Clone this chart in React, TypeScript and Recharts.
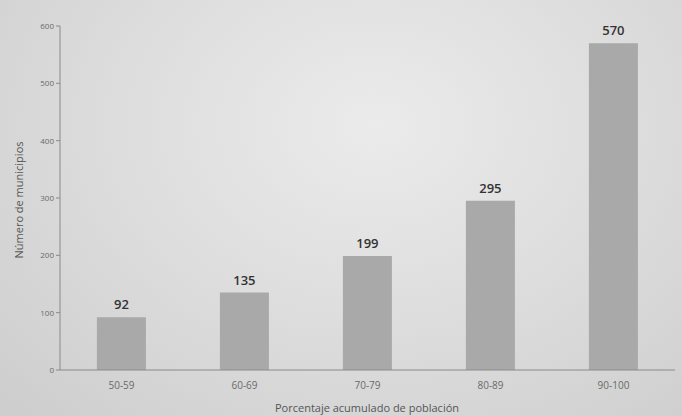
import { Bar, BarChart, LabelList, XAxis, YAxis } from 'recharts'

const categories = ['50-59', '60-69', '70-79', '80-89', '90-100']
const municipios = [92, 135, 199, 295, 570]
const yTicks = [0, 100, 200, 300, 400, 500, 600]

const data = categories.map((c, i) => ({ rango: c, municipios: municipios[i] }))

const FONT = '"Open Sans", "Noto Sans", sans-serif'
const TICK = { fill: '#6a6a6a', fontSize: 10, fontFamily: FONT }

export default function App() {
  return (
    <div
      style={{
        position: 'absolute',
        left: 0,
        top: 0,
        width: 682,
        height: 416,
        overflow: 'hidden',
        background:
          'radial-gradient(ellipse at 55% 30%, #ebebeb 0%, #dedede 45%, #cdcdcd 100%)',
        fontFamily: FONT,
      }}
    >
      <BarChart
        width={682}
        height={416}
        data={data}
        margin={{ top: 26, right: 7, left: 0, bottom: 16 }}
        barCategoryGap="30%"
      >
        <XAxis
          dataKey="rango"
          tick={TICK}
          axisLine={{ stroke: '#8a8a8a' }}
          tickLine={false}
          tickMargin={6}
        />
        <YAxis
          width={60}
          domain={[0, 600]}
          ticks={yTicks}
          tick={{ ...TICK, fontSize: 8 }}
          axisLine={{ stroke: '#8a8a8a' }}
          tickLine={{ stroke: '#8a8a8a' }}
          tickSize={4}
        />
        <Bar dataKey="municipios" fill="#a9a9a9" isAnimationActive={false}>
          <LabelList
            dataKey="municipios"
            position="top"
            offset={8}
            fill="#333"
            fontSize={13}
            fontWeight={600}
            fontFamily={FONT}
          />
        </Bar>
      </BarChart>
      <div
        style={{
          position: 'absolute',
          left: 0,
          top: 400,
          width: 734,
          textAlign: 'center',
          fontSize: 11,
          color: '#555',
        }}
      >
        Porcentaje acumulado de población
      </div>
      <div
        style={{
          position: 'absolute',
          left: 18,
          top: 200,
          transform: 'translate(-50%, -50%) rotate(-90deg)',
          whiteSpace: 'nowrap',
          fontSize: 11,
          color: '#555',
        }}
      >
        Número de municipios
      </div>
    </div>
  )
}
